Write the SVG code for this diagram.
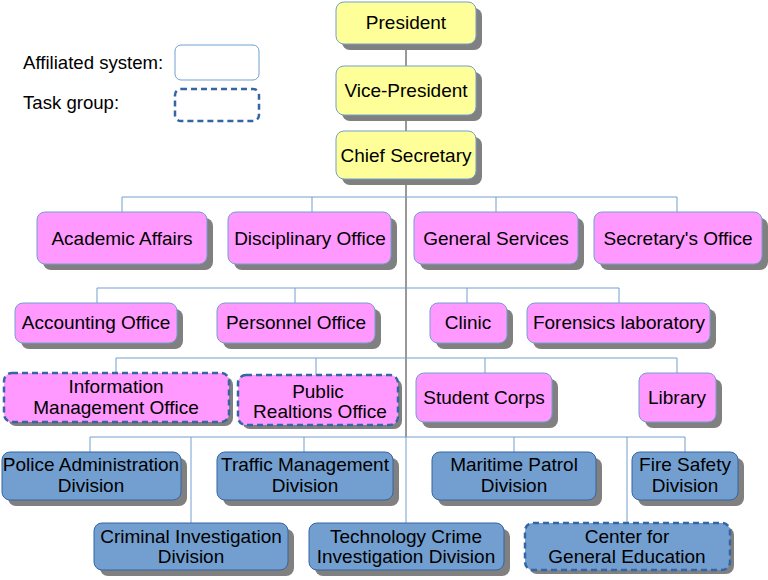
<svg xmlns="http://www.w3.org/2000/svg" width="768" height="580" viewBox="0 0 768 580">
<style>
text{font-family:"Liberation Sans",Arial,sans-serif;font-size:19px;fill:#000;text-anchor:middle}
.lg{text-anchor:start;font-size:18.6px}
.sh{fill:#808080}
.y{fill:#ffff99;stroke:#729fcf;stroke-width:1}
.p{fill:#ff99ff;stroke:#729fcf;stroke-width:1}
.b{fill:#729fcf;stroke:#3465a4;stroke-width:1}
.d{stroke:#3465a4;stroke-width:2.5;stroke-dasharray:6,4}
.c{fill:none;stroke:#729fcf;stroke-width:1}
.m{fill:none;stroke:#333;stroke-width:1}
</style>
<rect width="768" height="580" fill="#fff"/>
<g id="legend">
<text class="lg" x="23" y="69">Affiliated system:</text>
<text class="lg" x="23" y="109">Task group:</text>
<rect x="175" y="45" width="84" height="35" rx="6" fill="#fff" stroke="#729fcf"/>
<rect x="175" y="89" width="84" height="32" rx="6" fill="#fff" class="d"/>
</g>
<g id="connectors">
<path class="m" d="M406 44V437"/>
<path class="c" d="M406 437V523"/>
<path class="c" d="M122 212V197H677V212M312 197V212M496 197V212"/>
<path class="c" d="M97 303V288H619V303M295 288V303M467 288V303"/>
<path class="c" d="M116 373V358H677V373M316 358V375M485 358V373"/>
<path class="c" d="M90 452V437H685V452M304 437V452M514 437V452M191 437V523M627 437V523"/>
</g>
<g id="president"><rect class="sh" x="342" y="8" width="140" height="42" rx="8"/><rect class="y" x="336" y="2" width="140" height="42" rx="8"/><text x="406" y="29">President</text></g>
<g id="vice-president"><rect class="sh" x="342" y="72" width="140" height="49" rx="8"/><rect class="y" x="336" y="66" width="140" height="49" rx="8"/><text x="406" y="97">Vice-President</text></g>
<g id="chief-secretary"><rect class="sh" x="342" y="137" width="140" height="48" rx="8"/><rect class="y" x="336" y="131" width="140" height="48" rx="8"/><text x="406" y="162">Chief Secretary</text></g>
<g id="academic-affairs"><rect class="sh" x="43" y="218" width="170" height="52" rx="8"/><rect class="p" x="37" y="212" width="170" height="52" rx="8"/><text x="122" y="245">Academic Affairs</text></g>
<g id="disciplinary-office"><rect class="sh" x="234" y="218" width="163" height="52" rx="8"/><rect class="p" x="228" y="212" width="163" height="52" rx="8"/><text x="310" y="245">Disciplinary Office</text></g>
<g id="general-services"><rect class="sh" x="420" y="218" width="164" height="52" rx="8"/><rect class="p" x="414" y="212" width="164" height="52" rx="8"/><text x="496" y="245">General Services</text></g>
<g id="secretarys-office"><rect class="sh" x="600" y="218" width="168" height="52" rx="8"/><rect class="p" x="594" y="212" width="168" height="52" rx="8"/><text x="678" y="245">Secretary's Office</text></g>
<g id="accounting-office"><rect class="sh" x="21" y="309" width="162" height="40" rx="8"/><rect class="p" x="15" y="303" width="162" height="40" rx="8"/><text x="96" y="329">Accounting Office</text></g>
<g id="personnel-office"><rect class="sh" x="223" y="309" width="158" height="40" rx="8"/><rect class="p" x="217" y="303" width="158" height="40" rx="8"/><text x="296" y="329">Personnel Office</text></g>
<g id="clinic"><rect class="sh" x="436" y="309" width="77" height="40" rx="8"/><rect class="p" x="430" y="303" width="77" height="40" rx="8"/><text x="468" y="329">Clinic</text></g>
<g id="forensics-laboratory"><rect class="sh" x="533" y="309" width="183" height="40" rx="8"/><rect class="p" x="527" y="303" width="183" height="40" rx="8"/><text x="619" y="329">Forensics laboratory</text></g>
<g id="information-management-office"><rect class="sh" x="8" y="377" width="225" height="49" rx="8"/><rect class="p d" x="4" y="373" width="225" height="49" rx="8"/><text x="116" y="393">Information</text><text x="116" y="414">Management Office</text></g>
<g id="public-relations-office"><rect class="sh" x="242" y="379" width="160" height="50" rx="8"/><rect class="p d" x="238" y="375" width="160" height="50" rx="8"/><text x="318" y="398">Public</text><text x="320" y="418">Realtions Office</text></g>
<g id="student-corps"><rect class="sh" x="422" y="379" width="136" height="49" rx="8"/><rect class="p" x="416" y="373" width="136" height="49" rx="8"/><text x="484" y="404">Student Corps</text></g>
<g id="library"><rect class="sh" x="645" y="379" width="77" height="49" rx="8"/><rect class="p" x="639" y="373" width="77" height="49" rx="8"/><text x="677" y="404">Library</text></g>
<g id="police-administration-division"><rect class="sh" x="8" y="458" width="179" height="48" rx="8"/><rect class="b" x="2" y="452" width="179" height="48" rx="8"/><text x="91" y="471">Police Administration</text><text x="91" y="492">Division</text></g>
<g id="traffic-management-division"><rect class="sh" x="223" y="458" width="176" height="48" rx="8"/><rect class="b" x="217" y="452" width="176" height="48" rx="8"/><text x="305" y="471">Traffic Management</text><text x="305" y="492">Division</text></g>
<g id="maritime-patrol-division"><rect class="sh" x="438" y="458" width="164" height="48" rx="8"/><rect class="b" x="432" y="452" width="164" height="48" rx="8"/><text x="514" y="471">Maritime Patrol</text><text x="514" y="492">Division</text></g>
<g id="fire-safety-division"><rect class="sh" x="638" y="458" width="106" height="48" rx="8"/><rect class="b" x="632" y="452" width="106" height="48" rx="8"/><text x="685" y="471">Fire Safety</text><text x="685" y="492">Division</text></g>
<g id="criminal-investigation-division"><rect class="sh" x="100" y="529" width="194" height="47" rx="8"/><rect class="b" x="94" y="523" width="194" height="47" rx="8"/><text x="191" y="543">Criminal Investigation</text><text x="191" y="563">Division</text></g>
<g id="technology-crime-investigation-division"><rect class="sh" x="315" y="529" width="195" height="47" rx="8"/><rect class="b" x="309" y="523" width="195" height="47" rx="8"/><text x="406" y="543">Technology Crime</text><text x="406" y="563">Investigation Division</text></g>
<g id="center-for-general-education"><rect class="sh" x="529" y="527" width="205" height="47" rx="8"/><rect class="b d" x="525" y="523" width="205" height="47" rx="8"/><text x="627" y="543">Center for</text><text x="627" y="563">General Education</text></g>
</svg>
